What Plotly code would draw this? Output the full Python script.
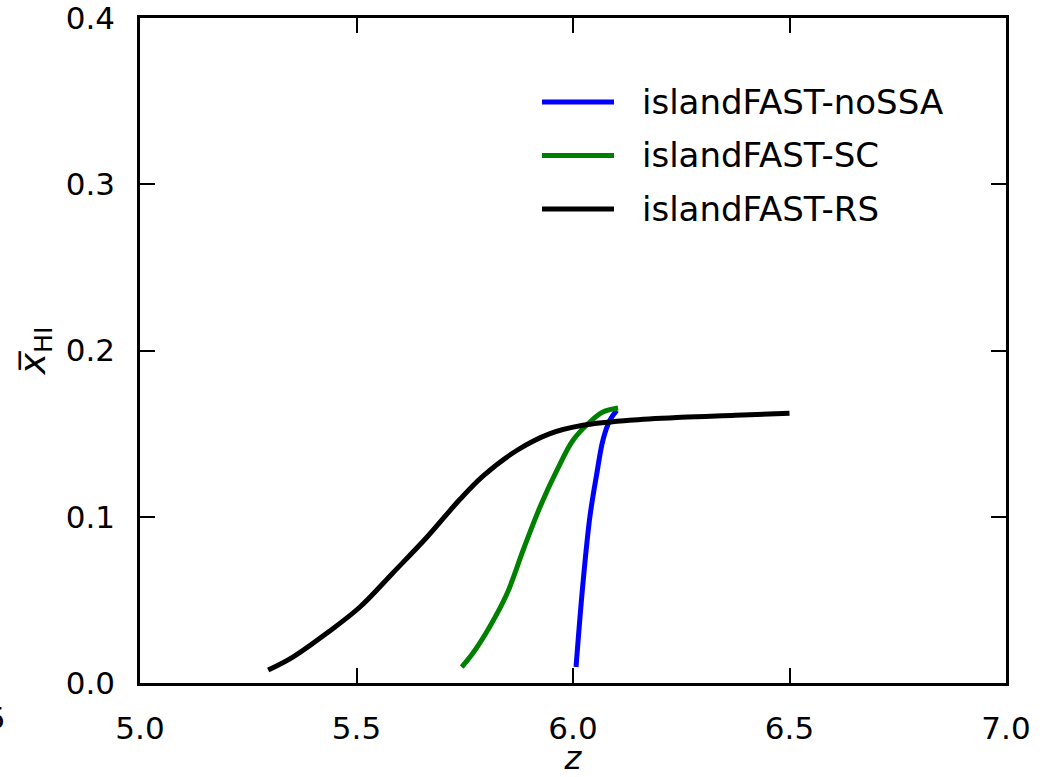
import plotly.graph_objects as go

# Neutral-fraction histories for the three islandFAST runs
z_nossa = [6.007, 6.023, 6.039, 6.055, 6.069, 6.085, 6.101]
xhi_nossa = [0.0096, 0.060, 0.100, 0.126, 0.146, 0.158, 0.164]

z_sc = [5.743, 5.769, 5.808, 5.848, 5.885, 5.924, 5.963, 6.000, 6.039, 6.069, 6.104]
xhi_sc = [0.0096, 0.018, 0.034, 0.054, 0.080, 0.106, 0.128, 0.146, 0.157, 0.163, 0.1654]

z_rs = [5.296, 5.353, 5.432, 5.508, 5.584, 5.663, 5.739, 5.792, 5.871, 5.947,
        6.023, 6.13, 6.25, 6.375, 6.50]
xhi_rs = [0.0078, 0.0156, 0.0301, 0.0457, 0.0662, 0.0878, 0.1105, 0.1245, 0.140,
          0.150, 0.155, 0.158, 0.1598, 0.161, 0.1622]

names = ["islandFAST-noSSA", "islandFAST-SC", "islandFAST-RS"]
colors = ["#0000ff", "#008000", "#000000"]
series = [(z_nossa, xhi_nossa), (z_sc, xhi_sc), (z_rs, xhi_rs)]

x_ticks = [5.0, 5.5, 6.0, 6.5, 7.0]
y_ticks = [0.0, 0.1, 0.2, 0.3, 0.4]

FONT = "DejaVu Sans"
fig = go.Figure()
for (zs, ys), name, col in zip(series, names, colors):
    fig.add_trace(go.Scatter(x=zs, y=ys, mode="lines", name=name,
                             line=dict(color=col, width=5, shape="spline", smoothing=1.0),
                             showlegend=False))

# Legend drawn as line samples with labels (paper coordinates)
W, H = 866.0, 665.0
for i, (name, col) in enumerate(zip(names, colors)):
    py = 102 + i * 53.5
    yp = (683 - py) / H
    fig.add_shape(type="line", xref="paper", yref="paper",
                  x0=(542 - 140) / W, x1=(614 - 140) / W, y0=yp, y1=yp,
                  line=dict(color=col, width=5))
    fig.add_annotation(xref="paper", yref="paper", x=(640 - 140) / W, y=yp,
                       text=name, showarrow=False, xanchor="left",
                       yanchor="middle", font=dict(family=FONT, size=34, color="black"))

# Fragment of a neighbouring tick label at the left edge
fig.add_annotation(xref="paper", yref="paper", x=(8 - 140) / W, y=(683 - 718) / H,
                   text="5", showarrow=False, xanchor="right", yanchor="middle",
                   font=dict(family=FONT, size=31, color="black"))

axis_common = dict(showgrid=False, zeroline=False, showline=True,
                   linecolor="black", linewidth=2.5, mirror="ticks",
                   ticks="inside", ticklen=15, tickwidth=2, tickcolor="black",
                   automargin=False, ticklabeloverflow="allow",
                   tickfont=dict(family=FONT, size=31, color="black"))

fig.update_xaxes(range=[5.0, 7.0], tickvals=x_ticks,
                 ticktext=[f"{v:.1f}" for v in x_ticks],
                 ticklabelstandoff=16,
                 title=dict(text="<i>z</i>", font=dict(family=FONT, size=32, color="black"),
                            standoff=13),
                 **axis_common)
fig.update_yaxes(range=[0.0, 0.4], tickvals=y_ticks,
                 ticktext=[f"{v:.1f}" for v in y_ticks],
                 ticklabelstandoff=16,
                 title=dict(text="<i>x\u0305</i><sub>HI</sub>",
                            font=dict(family=FONT, size=36, color="black"),
                            standoff=10),
                 **axis_common)

fig.update_layout(width=1048, height=777,
                  margin=dict(l=140, r=42, t=18, b=94),
                  plot_bgcolor="white", paper_bgcolor="white",
                  font=dict(family=FONT, color="black"))

fig.write_html("out.html")
